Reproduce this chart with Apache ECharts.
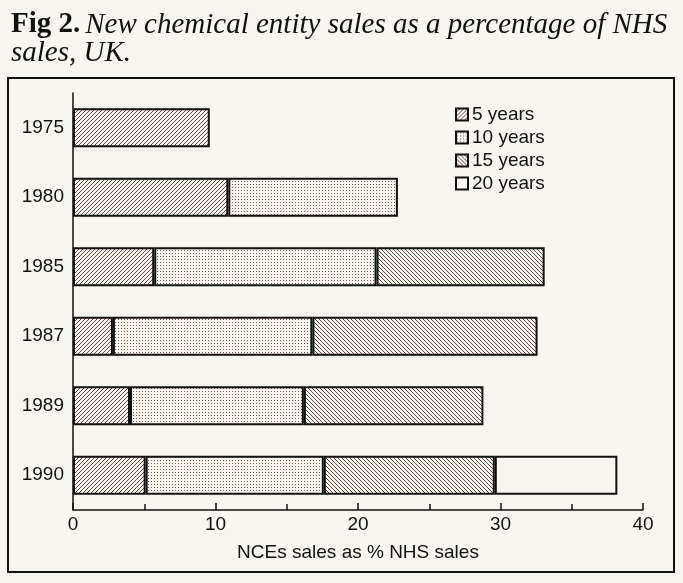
<!DOCTYPE html>
<html>
<head>
<meta charset="utf-8">
<script src="https://cdn.jsdelivr.net/npm/echarts@6/dist/echarts.min.js"></script>
<style>
  html, body { margin: 0; padding: 0; background: #f8f6f1; }
  #main { width: 683px; height: 583px; }
</style>
</head>
<body>
<div id="main"></div>
<script>
// categories and values (% of NHS sales)
const years = ['1975', '1980', '1985', '1987', '1989', '1990']
const fiveYears = [9.6, 10.9, 5.7, 2.8, 4.0, 5.1]
const tenYears = [null, 11.9, 15.6, 14.0, 12.2, 12.5]
const fifteenYears = [null, null, 11.8, 15.8, 12.6, 12.0]
const twentyYears = [null, null, null, null, null, 8.6]
const xTicks = [0, 10, 20, 30, 40]

const ink = '#6a4848'
const paper = '#f8f6f1'

function hatch(dir) {
  const c = document.createElement('canvas')
  c.width = 4; c.height = 4
  const g = c.getContext('2d')
  g.fillStyle = paper
  g.fillRect(0, 0, 4, 4)
  g.strokeStyle = ink
  g.lineWidth = 1
  g.beginPath()
  if (dir === '/') {
    g.moveTo(-1, 5); g.lineTo(5, -1)
    g.moveTo(-1, 1); g.lineTo(1, -1)
    g.moveTo(3, 5); g.lineTo(5, 3)
  } else {
    g.moveTo(-1, -1); g.lineTo(5, 5)
    g.moveTo(3, -1); g.lineTo(5, 1)
    g.moveTo(-1, 3); g.lineTo(1, 5)
  }
  g.stroke()
  return { image: c, repeat: 'repeat' }
}
function dots() {
  const c = document.createElement('canvas')
  c.width = 3; c.height = 3
  const g = c.getContext('2d')
  g.fillStyle = paper
  g.fillRect(0, 0, 3, 3)
  g.fillStyle = '#7a5858'
  g.fillRect(1, 1, 1, 1)
  return { image: c, repeat: 'repeat' }
}

const font = 'Liberation Sans'
const border = { borderColor: '#111', borderWidth: 2 }

function bar(name, data, color) {
  return {
    name: name,
    type: 'bar',
    stack: 'total',
    barWidth: 39,
    data: data,
    itemStyle: Object.assign({ color: color }, border)
  }
}

const chart = echarts.init(document.getElementById('main'))
chart.setOption({
  backgroundColor: paper,
  animation: false,
  title: {
    left: 6,
    top: 6,
    text: '{b|Fig 2.} {i|New chemical entity sales as a percentage of NHS}\n{i|sales, UK.}',
    textStyle: {
      fontWeight: 'normal',
      rich: {
        b: { fontFamily: 'Liberation Serif', fontWeight: 'bold', fontSize: 29, color: '#111', lineHeight: 28 },
        i: { fontFamily: 'Liberation Serif', fontStyle: 'italic', fontWeight: 'normal', fontSize: 29, color: '#111', lineHeight: 28 }
      }
    }
  },
  graphic: [{
    type: 'rect',
    shape: { x: 8, y: 78, width: 666, height: 494 },
    style: { fill: null, stroke: '#111', lineWidth: 2 }
  }],
  legend: {
    orient: 'vertical',
    left: 450,
    top: 100,
    itemWidth: 12,
    itemHeight: 12,
    itemGap: 4,
    icon: 'rect',
    textStyle: { fontFamily: font, fontSize: 19, color: '#111', padding: [0, 0, 0, -1] },
    data: ['5 years', '10 years', '15 years', '20 years']
  },
  grid: { left: 73, right: 40, top: 93, bottom: 73 },
  xAxis: {
    type: 'value',
    min: xTicks[0],
    max: xTicks[xTicks.length - 1],
    interval: 10,
    name: 'NCEs sales as % NHS sales',
    nameLocation: 'middle',
    nameGap: 33,
    nameTextStyle: { fontFamily: font, fontSize: 19, color: '#111' },
    axisLine: { show: true, lineStyle: { color: '#111', width: 1.5 } },
    axisTick: { show: true, inside: true, length: 7, lineStyle: { color: '#111', width: 1.5 } },
    minorTick: { show: true, splitNumber: 2, length: 6, lineStyle: { color: '#111', width: 1.5 } },
    splitLine: { show: false },
    axisLabel: { fontFamily: font, fontSize: 19, color: '#111', margin: 5 }
  },
  yAxis: {
    type: 'category',
    inverse: true,
    data: years,
    axisLine: { show: true, lineStyle: { color: '#111', width: 1.5 } },
    axisTick: { show: false },
    axisLabel: { fontFamily: font, fontSize: 19, color: '#111', margin: 9 }
  },
  series: [
    bar('5 years', fiveYears, hatch('/')),
    bar('10 years', tenYears, dots()),
    bar('15 years', fifteenYears, hatch('\\')),
    bar('20 years', twentyYears, paper)
  ]
})
</script>
</body>
</html>
